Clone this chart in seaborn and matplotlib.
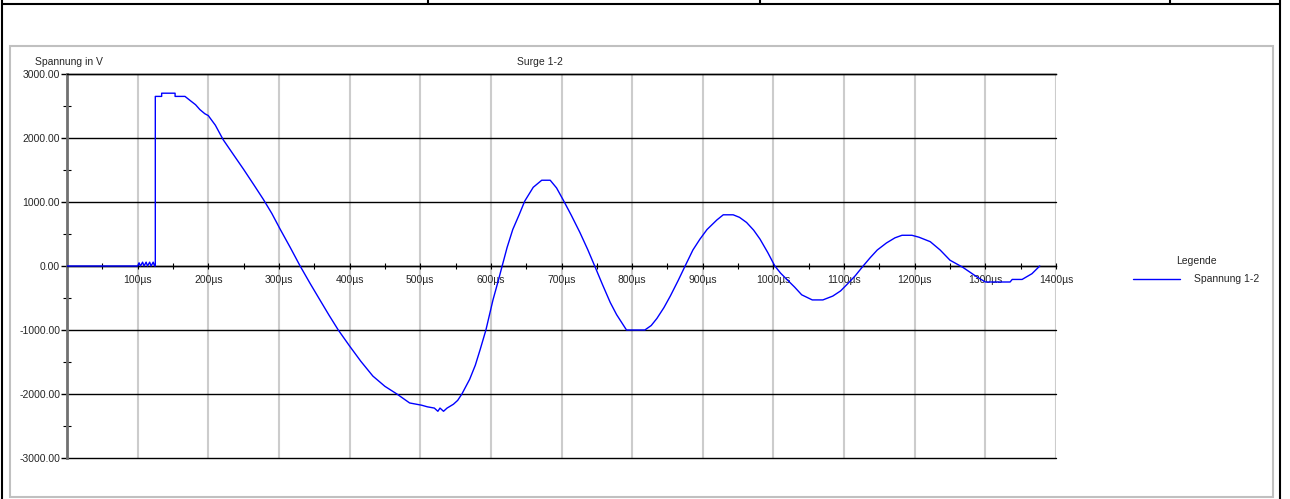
import numpy as np
import pandas as pd
import matplotlib
matplotlib.use("Agg")
import matplotlib.pyplot as plt
import matplotlib.ticker as mticker
from matplotlib.patches import Rectangle
from matplotlib.lines import Line2D
import seaborn as sns

zeit_us = [0, 100, 102, 104, 107, 109, 112, 114, 117, 119, 122, 124,
           125, 125, 134, 134, 153, 153, 167, 175, 182, 188, 195, 200, 210,
           221, 235, 250, 265, 278, 290, 302, 316, 330, 344, 358, 371, 384,
           400, 416, 433, 450, 467, 485, 502, 510, 520, 525, 528, 533, 538,
           547, 553, 559, 570, 578, 585, 593, 603, 610, 616, 623, 631, 640,
           648, 660, 672, 684, 693, 702, 714, 726, 737, 747, 758, 769, 778,
           785, 792, 818, 827, 835, 845, 854, 865, 875, 886, 896, 906, 920,
           929, 943, 952, 962, 972, 981, 992, 1002, 1010, 1019, 1030, 1040,
           1055, 1070, 1084, 1095, 1104, 1116, 1127, 1137, 1147, 1160, 1172,
           1182, 1196, 1206, 1222, 1236, 1250, 1268, 1288, 1300, 1335, 1338,
           1352, 1366, 1377]
spannung_v = [0, 0, 50, 0, 60, 0, 60, 0, 60, 0, 60, 0,
              0, 2650, 2650, 2700, 2700, 2650, 2650, 2580, 2520, 2445, 2380, 2350, 2200,
              1975, 1750, 1510, 1260, 1040, 820, 570, 290, 0, -270, -530, -770, -1000,
              -1250, -1490, -1720, -1880, -2000, -2140, -2175, -2200, -2220, -2270, -2220, -2270, -2220,
              -2160, -2100, -2000, -1770, -1550, -1300, -1000, -530, -250, 0, 290, 570, 800,
              1015, 1230, 1340, 1340, 1220, 1040, 790, 525, 260, 0, -290, -570, -760,
              -880, -1000, -1000, -930, -820, -650, -470, -230, 0, 250, 420, 570, 720,
              800, 800, 760, 680, 560, 420, 210, 0, -110, -210, -330, -450,
              -530, -530, -470, -390, -290, -150, 0, 130, 250, 360, 440,
              480, 480, 450, 380, 250, 90, -20, -170, -250, -250, -210,
              -210, -120, 0]

x_ticks = list(range(0, 1401, 100))
y_ticks = [-3000, -2000, -1000, 0, 1000, 2000, 3000]

W, H = 1290, 499

sns.set_style("white")
plt.rcParams["font.family"] = ["Liberation Sans", "DejaVu Sans"]

df = pd.DataFrame({"Zeit": zeit_us, "Spannung": spannung_v})

fig = plt.figure(figsize=(W / 100, H / 100), dpi=100)
ax = fig.add_axes([67 / W, 1 - 458 / H, (1056 - 67) / W, (458 - 74) / H])

sns.lineplot(data=df, x="Zeit", y="Spannung", sort=False, estimator=None,
             color="#0000ff", linewidth=1.0, label="Spannung 1-2", ax=ax, zorder=5)

ax.set_xlim(0, 1400)
ax.set_ylim(-3000, 3000)
ax.set_xlabel("")
ax.set_ylabel("")

# Achsen
ax.spines["bottom"].set_position(("data", 0))
ax.spines["bottom"].set_color("black")
ax.spines["bottom"].set_linewidth(1.0)
ax.spines["right"].set_visible(False)
ax.spines["top"].set_color("black")
ax.spines["top"].set_linewidth(1.0)
ax.spines["left"].set_color("#707070")
ax.spines["left"].set_linewidth(2.0)

ax.set_xticks(x_ticks)
ax.xaxis.set_minor_locator(mticker.MultipleLocator(50))
ax.xaxis.set_major_formatter(mticker.FuncFormatter(lambda v, p: "" if v == 0 else f"{v:.0f}µs"))
ax.set_yticks(y_ticks)
ax.yaxis.set_minor_locator(mticker.FixedLocator([-2500, -1500, -500, 500, 1500, 2500]))
ax.yaxis.set_major_formatter(mticker.FuncFormatter(lambda v, p: f"{v:.2f}"))

ax.tick_params(axis="x", which="both", direction="inout", length=4, width=0.8,
               color="black", labelsize=7.5, pad=4.5, bottom=True)
ax.tick_params(axis="y", which="major", direction="out", length=4, width=1.0,
               color="black", labelsize=7.5, pad=1, left=True)
ax.tick_params(axis="y", which="minor", direction="inout", length=6, width=0.8,
               color="black", left=True)

ax.set_axisbelow(True)
ax.xaxis.grid(True, color="#cccccc", linewidth=1.5)
ax.yaxis.grid(True, color="black", linewidth=1.0)
for gl in ax.get_ygridlines():
    gl.set_clip_on(False)

# Beschriftungen
fig.text(35 / W, 1 - 62 / H, "Spannung in V", fontsize=7.5, ha="left", va="center")
fig.text(540 / W, 1 - 62 / H, "Surge 1-2", fontsize=7.5, ha="center", va="center")

ax.get_legend().remove()
leg = fig.legend(handles=[Line2D([0], [0], color="#0000ff", lw=1.0)], labels=["Spannung 1-2"],
                 title="Legende", loc="upper left", bbox_to_anchor=(1133 / W, 1 - 256 / H),
                 frameon=False, fontsize=7.5, title_fontsize=7.5, handlelength=4.5,
                 handletextpad=1.4, borderpad=0, borderaxespad=0, labelspacing=0.3)
leg._legend_box.sep = 6

# Rahmen
fig.add_artist(Rectangle((10 / W, 1 - 497 / H), (1273 - 10) / W, (497 - 46) / H,
                         transform=fig.transFigure, fill=False, edgecolor="#c0c0c0", lw=1.5))
for x0, y0, x1, y1 in [(2, 0, 2, H), (1280, 0, 1280, H), (2, 4, 1280, 4),
                       (428, 0, 428, 4), (760, 0, 760, 4), (1170, 0, 1170, 4)]:
    fig.add_artist(Line2D([x0 / W, x1 / W], [1 - y0 / H, 1 - y1 / H],
                          transform=fig.transFigure, color="black", lw=1.5))

fig.savefig("out.png", dpi=100)
